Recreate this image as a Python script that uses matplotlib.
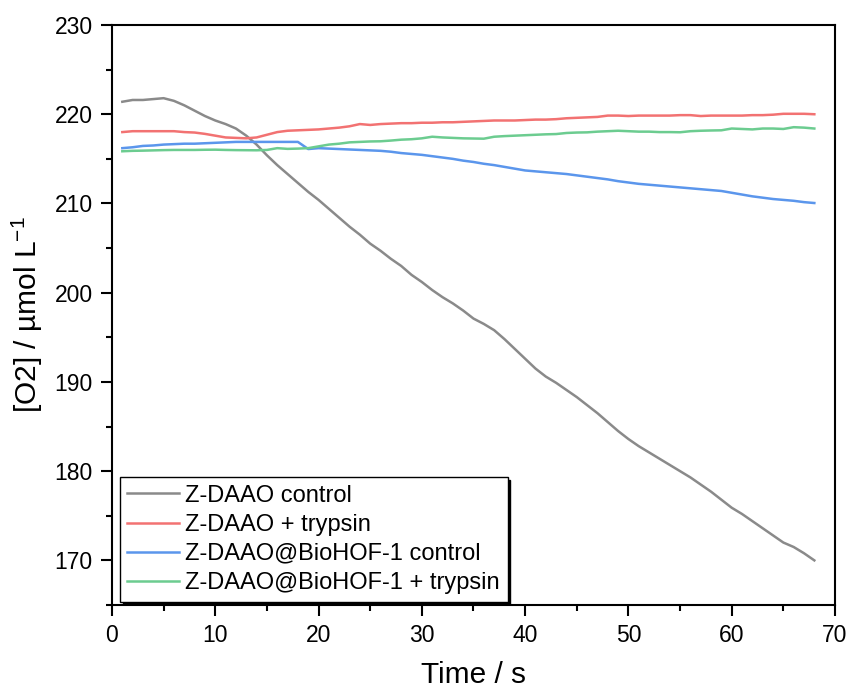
import matplotlib
matplotlib.use("Agg")
import matplotlib.pyplot as plt
from matplotlib.ticker import MultipleLocator, AutoMinorLocator

plt.rcParams['font.family'] = ['Liberation Sans', 'DejaVu Sans']
plt.rcParams['mathtext.fontset'] = 'custom'
plt.rcParams['mathtext.rm'] = 'Liberation Sans'
plt.rcParams['mathtext.it'] = 'Liberation Sans:italic'
plt.rcParams['mathtext.default'] = 'regular'

time_s = list(range(1, 69))

daao_control = [
    221.4, 221.6, 221.6, 221.7, 221.8, 221.5, 221.0, 220.4, 219.8, 219.3,
    218.9, 218.4, 217.6, 216.6, 215.4, 214.3, 213.3, 212.3, 211.3, 210.4,
    209.4, 208.4, 207.4, 206.5, 205.5, 204.7, 203.8, 203.0, 202.0, 201.2,
    200.3, 199.5, 198.8, 198.0, 197.1, 196.5, 195.8, 194.8, 193.7, 192.6,
    191.5, 190.6, 189.9, 189.1, 188.3, 187.4, 186.5, 185.5, 184.5, 183.6,
    182.8, 182.1, 181.4, 180.7, 180.0, 179.3, 178.5, 177.7, 176.8, 175.9,
    175.2, 174.4, 173.6, 172.8, 172.0, 171.5, 170.8, 170.0,
]

daao_trypsin = [
    218.0, 218.1, 218.1, 218.1, 218.1, 218.1, 218.0, 217.95, 217.8, 217.6,
    217.4, 217.35, 217.3, 217.4, 217.7, 218.0, 218.15, 218.2, 218.25, 218.3,
    218.4, 218.5, 218.65, 218.9, 218.8, 218.9, 218.95, 219.0, 219.0, 219.05,
    219.05, 219.1, 219.1, 219.15, 219.2, 219.25, 219.3, 219.3, 219.3, 219.35,
    219.4, 219.4, 219.45, 219.55, 219.6, 219.65, 219.7, 219.85, 219.85, 219.8,
    219.85, 219.85, 219.85, 219.85, 219.9, 219.9, 219.8, 219.85, 219.85, 219.85,
    219.85, 219.9, 219.9, 219.95, 220.05, 220.05, 220.05, 220.0,
]

hof_control = [
    216.2, 216.3, 216.45, 216.5, 216.6, 216.65, 216.7, 216.7, 216.75, 216.8,
    216.85, 216.9, 216.9, 216.9, 216.9, 216.9, 216.9, 216.9, 216.1, 216.2,
    216.15, 216.1, 216.05, 216.0, 215.95, 215.9, 215.8, 215.65, 215.55, 215.45,
    215.3, 215.15, 215.0, 214.8, 214.65, 214.45, 214.3, 214.1, 213.9, 213.7,
    213.6, 213.5, 213.4, 213.3, 213.15, 213.0, 212.85, 212.7, 212.5, 212.35,
    212.2, 212.1, 212.0, 211.9, 211.8, 211.7, 211.6, 211.5, 211.4, 211.2,
    211.0, 210.8, 210.65, 210.5, 210.4, 210.3, 210.15, 210.05,
]

hof_trypsin = [
    215.85, 215.9, 215.92, 215.95, 215.98, 216.0, 216.0, 216.0, 216.02, 216.03,
    216.0, 215.98, 215.97, 215.96, 216.0, 216.2, 216.12, 216.15, 216.2, 216.4,
    216.6, 216.7, 216.85, 216.9, 216.95, 216.97, 217.05, 217.15, 217.2, 217.3,
    217.48, 217.4, 217.35, 217.3, 217.28, 217.26, 217.48, 217.55, 217.6, 217.65,
    217.7, 217.75, 217.78, 217.9, 217.95, 217.97, 218.05, 218.1, 218.15, 218.1,
    218.05, 218.05, 218.0, 218.0, 217.98, 218.1, 218.15, 218.18, 218.2, 218.4,
    218.35, 218.3, 218.4, 218.4, 218.35, 218.55, 218.5, 218.4,
]

series = [
    ("Z-DAAO control", daao_control, "#8a8a8a"),
    ("Z-DAAO + trypsin", daao_trypsin, "#f27272"),
    ("Z-DAAO@BioHOF-1 control", hof_control, "#5b96ec"),
    ("Z-DAAO@BioHOF-1 + trypsin", hof_trypsin, "#6ccc90"),
]

fig = plt.figure(figsize=(8.49, 6.95), dpi=100)
ax = fig.add_axes([0.1319, 0.1295, 0.8516, 0.8345])

for label, values, color in series:
    ax.plot(time_s, values, color=color, lw=1.8, label=label)

ax.set_xlim(0, 70)
ax.set_ylim(165, 230)
ax.xaxis.set_major_locator(MultipleLocator(10))
ax.yaxis.set_major_locator(MultipleLocator(10))
ax.xaxis.set_minor_locator(AutoMinorLocator(2))
ax.yaxis.set_minor_locator(AutoMinorLocator(2))
ax.tick_params(which='both', direction='out', width=1.5, colors='black',
               top=False, right=False)
ax.tick_params(which='major', length=8, labelsize=16.5, pad=6)
ax.tick_params(which='minor', length=4.5)
for sp in ax.spines.values():
    sp.set_linewidth(1.5)

ax.set_xlabel("Time / s", fontsize=21.5, labelpad=10)
ax.set_ylabel(r"[O2] / µmol L$^{-1}$", fontsize=21.5, labelpad=7)

leg = ax.legend(loc='lower left', bbox_to_anchor=(0.011, 0.006),
                borderaxespad=0, fontsize=17, frameon=True, fancybox=False,
                framealpha=1, edgecolor='black', handlelength=2.2,
                handletextpad=0.25, labelspacing=0.3, borderpad=0.32,
                shadow={'color': 'black', 'alpha': 1})
leg.get_frame().set_linewidth(1.0)

fig.savefig("out.png", dpi=100)
